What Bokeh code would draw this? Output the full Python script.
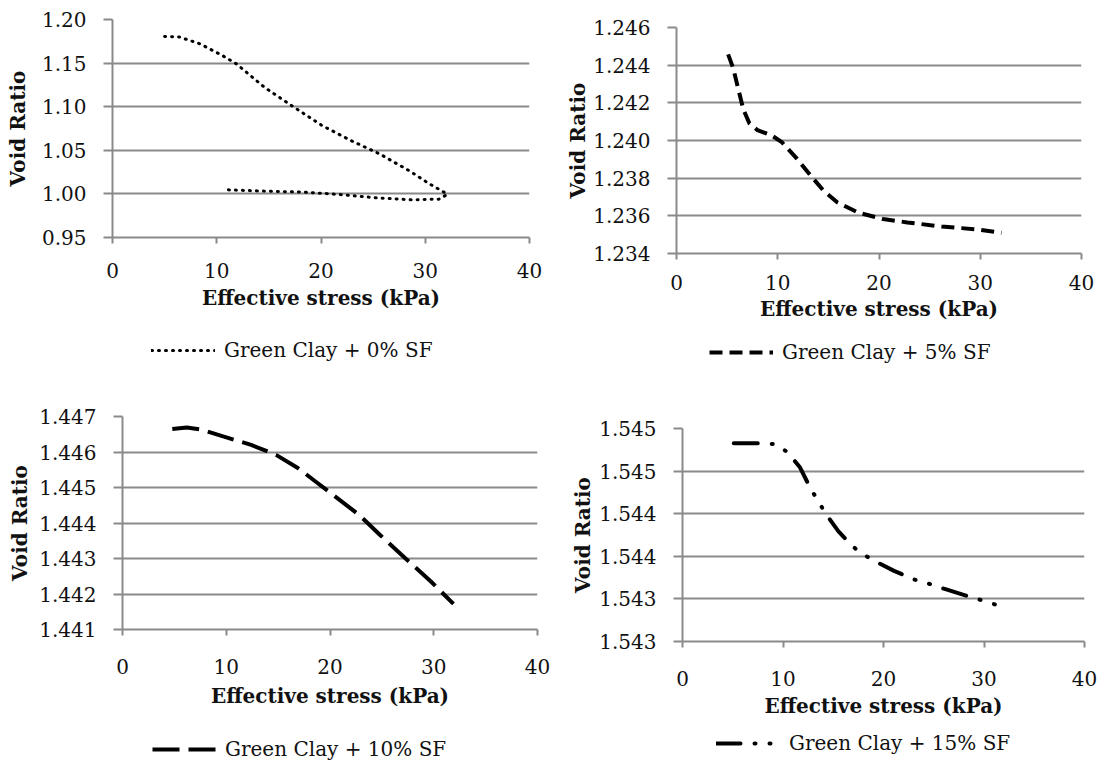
from bokeh.plotting import figure
from bokeh.models import FixedTicker, Legend, LegendItem, Range1d
from bokeh.layouts import column, row
from bokeh.embed import file_html
from bokeh.resources import INLINE

# ---------------- data ----------------
x_ticks = [0, 10, 20, 30, 40]
x_tick_labels = ["0", "10", "20", "30", "40"]
x_title = "Effective stress (kPa)"
y_title = "Void Ratio"

# Green Clay + 0% SF (loading then unloading)
sf0_stress = [5.0, 6.4, 8.4, 10.5, 11.9, 14.6, 17.4, 20.1, 22.9, 25.6, 28.4, 30.4, 31.8, 32.1,
              31.3, 28.7, 25.3, 21.8, 18.4, 15.0, 11.0]
sf0_void = [1.1805, 1.1800, 1.1720, 1.1590, 1.1490, 1.1220, 1.0995, 1.0784, 1.0610, 1.0460, 1.0270,
            1.0115, 1.0020, 0.9993, 0.9940, 0.9932, 0.9955, 0.9993, 1.0020, 1.0030, 1.0047]
sf0_yticks = [0.95, 1.00, 1.05, 1.10, 1.15, 1.20]
sf0_ylabels = ["0.95", "1.00", "1.05", "1.10", "1.15", "1.20"]
sf0_name = "Green Clay + 0% SF"

# Green Clay + 5% SF
sf5_stress = [5.1, 5.6, 6.1, 6.6, 7.2, 8.0, 9.4, 10.4, 11.8, 13.2, 14.5, 15.9, 18.0, 20.4,
              22.8, 26.2, 29.7, 32.1]
sf5_void = [1.24457, 1.24384, 1.24274, 1.24165, 1.24091, 1.24055, 1.24027, 1.23991, 1.23909,
            1.23817, 1.23735, 1.23671, 1.23616, 1.23583, 1.23565, 1.23543, 1.23528, 1.23510]
sf5_yticks = [1.234, 1.236, 1.238, 1.240, 1.242, 1.244, 1.246]
sf5_ylabels = ["1.234", "1.236", "1.238", "1.240", "1.242", "1.244", "1.246"]
sf5_name = "Green Clay + 5% SF"

# Green Clay + 10% SF
sf10_stress = [4.8, 6.2, 7.6, 9.7, 12.4, 14.8, 16.9, 18.6, 20.7, 22.8, 24.8, 27.2, 29.7, 31.9]
sf10_void = [1.44665, 1.44669, 1.44663, 1.44644, 1.44620, 1.44592, 1.44555, 1.44517, 1.44470,
             1.44423, 1.44367, 1.44302, 1.44236, 1.44172]
sf10_yticks = [1.441, 1.442, 1.443, 1.444, 1.445, 1.446, 1.447]
sf10_ylabels = ["1.441", "1.442", "1.443", "1.444", "1.445", "1.446", "1.447"]
sf10_name = "Green Clay + 10% SF"

# Green Clay + 15% SF
sf15_stress = [5.1, 7.9, 9.3, 10.5, 11.7, 12.7, 14.3, 15.5, 16.9, 18.1, 19.5, 21.0, 23.1, 24.5,
               26.0, 27.9, 29.9, 31.4]
sf15_void = [1.544827, 1.544827, 1.544816, 1.544717, 1.544541, 1.544305, 1.543991, 1.543795,
             1.543619, 1.543513, 1.543422, 1.543332, 1.543226, 1.543179, 1.543120, 1.543050,
             1.542979, 1.542924]
sf15_yticks = [1.5425, 1.5430, 1.5435, 1.5440, 1.5445, 1.5450]
sf15_ylabels = ["1.543", "1.543", "1.544", "1.544", "1.545", "1.545"]
sf15_name = "Green Clay + 15% SF"

FONT = "DejaVu Serif"
GRID = "#8a8a8a"
TXT = "#111111"


def panel(xs, ys, yticks, ylabels, dash, cap, lw,
          fw, fh, left, right, top, bottom,
          xl_standoff, xt_standoff, yl_standoff):
    p = figure(frame_width=fw, frame_height=fh,
               min_border_left=left, min_border_right=right,
               min_border_top=top, min_border_bottom=bottom,
               x_range=Range1d(x_ticks[0], x_ticks[-1]),
               y_range=Range1d(yticks[0], yticks[-1]),
               output_backend="svg", toolbar_location=None)
    p.outline_line_color = None
    p.background_fill_color = "white"
    p.border_fill_color = "white"

    p.line(xs, ys, line_color="black", line_width=lw, line_dash=dash, line_cap=cap)

    xa = p.xaxis[0]
    xa.ticker = FixedTicker(ticks=x_ticks)
    xa.major_label_overrides = {t: l for t, l in zip(x_ticks, x_tick_labels)}
    xa.axis_line_color = GRID
    xa.axis_line_width = 2
    xa.major_tick_line_color = GRID
    xa.major_tick_line_width = 2
    xa.major_tick_in = 0
    xa.major_tick_out = 6
    xa.minor_tick_line_color = None
    xa.major_label_text_font = FONT
    xa.major_label_text_font_size = "20px"
    xa.major_label_text_color = TXT
    xa.major_label_standoff = xt_standoff
    xa.axis_label = x_title
    xa.axis_label_text_font = FONT
    xa.axis_label_text_font_style = "bold"
    xa.axis_label_text_font_size = "20px"
    xa.axis_label_text_color = TXT
    xa.axis_label_standoff = xl_standoff

    ya = p.yaxis[0]
    ya.ticker = FixedTicker(ticks=yticks)
    ya.major_label_overrides = {t: l for t, l in zip(yticks, ylabels)}
    ya.axis_line_color = GRID
    ya.axis_line_width = 2
    ya.major_tick_line_color = GRID
    ya.major_tick_line_width = 2
    ya.major_tick_in = 0
    ya.major_tick_out = 9
    ya.minor_tick_line_color = None
    ya.major_label_text_font = FONT
    ya.major_label_text_font_size = "20px"
    ya.major_label_text_color = TXT
    ya.major_label_standoff = 17
    ya.axis_label = y_title
    ya.axis_label_text_font = FONT
    ya.axis_label_text_font_style = "bold"
    ya.axis_label_text_font_size = "20px"
    ya.axis_label_text_color = TXT
    ya.axis_label_standoff = yl_standoff

    p.xgrid.visible = False
    p.ygrid.ticker = FixedTicker(ticks=yticks)
    p.ygrid.grid_line_color = GRID
    p.ygrid.grid_line_width = 2
    return p


def legend_strip(xs, ys, name, dash, cap, lw, fw, left, right, h, loc):
    # legend row under a panel; its series lies outside this strip's ranges,
    # so only the legend entry is visible
    q = figure(frame_width=fw, height=h,
               min_border_left=left, min_border_right=right,
               min_border_top=0, min_border_bottom=0,
               x_range=Range1d(-2, -1), y_range=Range1d(-2, -1),
               x_axis_location=None, y_axis_location=None,
               output_backend="svg", toolbar_location=None)
    q.outline_line_color = None
    q.xgrid.visible = False
    q.ygrid.visible = False
    r = q.line(xs, ys, line_color="black", line_width=lw, line_dash=dash, line_cap=cap)
    leg = Legend(items=[LegendItem(label=name, renderers=[r])], location=loc,
                 glyph_width=64, glyph_height=20, label_height=20, label_standoff=9,
                 label_text_font=FONT, label_text_font_size="20px",
                 label_text_color=TXT, padding=0, margin=0, spacing=0,
                 border_line_color=None, background_fill_alpha=0)
    q.add_layout(leg, "center")
    return q


st0 = ("1 6", "round", 3)
st5 = ("13 7", "butt", 4)
st10 = ("27 9", "butt", 4)
st15 = ("24 14 1 14 1 14", "round", 4)

p1 = panel(sf0_stress, sf0_void, sf0_yticks, sf0_ylabels, *st0,
           417, 218, 112, 31, 19, 93, 5, 19, 9)
p2 = panel(sf5_stress, sf5_void, sf5_yticks, sf5_ylabels, *st5,
           405, 226, 116, 23, 27, 77, 4, 15, 0)
p3 = panel(sf10_stress, sf10_void, sf10_yticks, sf10_ylabels, *st10,
           415, 213, 122, 23, 26, 101, 7, 23, 4)
p4 = panel(sf15_stress, sf15_void, sf15_yticks, sf15_ylabels, *st15,
           402, 213, 122, 20, 38, 89, 5, 23, 1)

l1 = legend_strip(sf0_stress, sf0_void, sf0_name, *st0, 417, 112, 31, 60, (39, 28))
l2 = legend_strip(sf5_stress, sf5_void, sf5_name, *st5, 405, 116, 23, 60, (33, 26))
l3 = legend_strip(sf10_stress, sf10_void, sf10_name, *st10, 415, 122, 23, 31, (30, 0))
l4 = legend_strip(sf15_stress, sf15_void, sf15_name, *st15, 402, 122, 20, 31, (34, 6))

layout = column(
    row(column(p1, l1, spacing=0), column(p2, l2, spacing=0), spacing=0),
    row(column(p3, l3, spacing=0), column(p4, l4, spacing=0), spacing=0),
    spacing=0)
open("out.html", "w").write(file_html(layout, INLINE))
